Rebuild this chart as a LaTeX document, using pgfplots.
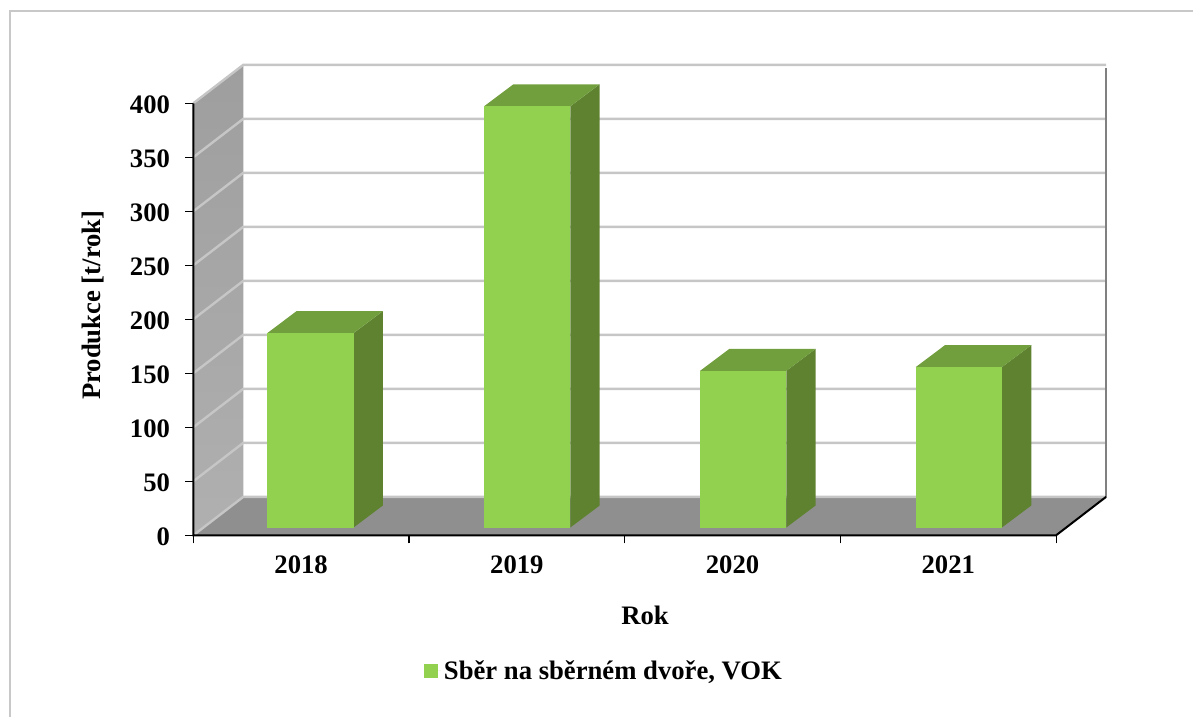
\documentclass[border=0pt]{standalone}
\usepackage{fontspec}
\setmainfont{Liberation Serif}
\usepackage{pgfplots}
\pgfplotsset{compat=1.18}

\definecolor{barfront}{HTML}{92D050}
\definecolor{bartop}{HTML}{729F3E}
\definecolor{barside}{HTML}{5F8231}
\definecolor{floorgray}{HTML}{8F8F8F}
\definecolor{gridgray}{HTML}{C6C6C6}
\definecolor{framegray}{HTML}{C8C8C8}

% depth of the box and of one bar, in axis units
\newcommand{\gridat}[1]{%
  \pgfmathsetmacro{\gy}{#1+35.6}%
  \pgfmathsetmacro{\gx}{4.2318}%
  \addplot[gridgray, line width=1.8pt] coordinates {(0,#1) (0.2318,\gy) (\gx,\gy)};
}
\newcommand{\barbox}[2]{%
  \pgfmathsetmacro{\xa}{#1}%
  \pgfmathsetmacro{\xb}{#1+0.4}%
  \pgfmathsetmacro{\xc}{#1+0.136}%
  \pgfmathsetmacro{\xd}{#1+0.4+0.136}%
  \pgfmathsetmacro{\yt}{7.2+#2}%
  \pgfmathsetmacro{\yb}{7.2+#2+20.4}%
  \addplot[fill=barside, draw=none] coordinates {(\xb,7.2) (\xd,27.6) (\xd,\yb) (\xb,\yt)};
  \addplot[fill=bartop, draw=none] coordinates {(\xa,\yt) (\xb,\yt) (\xd,\yb) (\xc,\yb)};
  \addplot[fill=barfront, draw=none] coordinates {(\xa,7.2) (\xb,7.2) (\xb,\yt) (\xa,\yt)};
}

\begin{document}
\begin{tikzpicture}
\path[use as bounding box] (0,0) rectangle (894.75pt,537.75pt);
\draw[framegray, line width=1.5pt] (7.6pt,0) -- (7.6pt,529.5pt) -- (894.75pt,529.5pt);
\begin{axis}[
  at={(144.975pt,136.275pt)},
  anchor=south west,
  scale only axis,
  width=684.6pt,
  height=352.84pt,
  xmin=0, xmax=4.2318,
  ymin=0, ymax=435.6,
  clip=false,
  axis x line*=bottom,
  axis y line*=left,
  axis line style={draw=none,-},
  tick align=outside,
  major tick length=6pt,
  tick style={black, line width=0.8pt},
  xtick={0,1,2,3,4},
  xticklabels={},
  extra x ticks={0.5,1.5,2.5,3.5},
  extra x tick labels={2018,2019,2020,2021},
  extra x tick style={major tick length=0pt, tick style={draw=none}},
  ytick={0,50,...,400},
  /pgf/number format/assume math mode=true,
  tick label style={font=\fontsize{20}{24}\selectfont\bfseries},
  xticklabel style={yshift=-12pt},
  yticklabel style={xshift=-8pt, yshift=-1pt},
  xlabel={Rok},
  ylabel={Produkce [t/rok]},
  every axis x label/.style={at={(axis cs:2.094,-73.8)}, anchor=center, font=\fontsize{20}{24}\selectfont\bfseries},
  every axis y label/.style={at={(axis cs:-0.465,213)}, anchor=center, rotate=90, font=\fontsize{20}{24}\selectfont\bfseries},
  every axis plot/.append style={forget plot},
  legend image code/.code={\fill[#1] (0pt,-5.25pt) rectangle (10.5pt,5.25pt); \path (0pt,0pt) -- (12.75pt,0pt);},
  legend style={at={(axis cs:1.0695,-125.5)}, anchor=west, draw=none, fill=none,
    font=\fontsize{20}{24}\selectfont\bfseries, inner sep=0pt, outer sep=0pt,
    nodes={inner xsep=2.2pt}},
]

% side wall and floor
\addplot[top color=black!38, bottom color=black!31, draw=none]
  coordinates {(0,0) (0.2318,35.6) (0.2318,435.6) (0,400)};
\addplot[fill=floorgray, draw=none]
  coordinates {(0,0) (4,0) (4.2318,35.6) (0.2318,35.6)};

\gridat{0}
\gridat{50}
\gridat{100}
\gridat{150}
\gridat{200}
\gridat{250}
\gridat{300}
\gridat{350}
\gridat{400}

\addplot[black!50, line width=1.5pt] coordinates {(4.2318,35.6) (4.2318,433)};

% axes
\addplot[black, line width=1.5pt] coordinates {(0,400) (0,0) (4,0) (4.2318,35.6)};

% x position of the bar, value
\barbox{0.343}{180}
\barbox{1.348}{390}
\barbox{2.349}{145}
\barbox{3.349}{148.5}

\addlegendimage{fill=barfront, draw=none}
\addlegendentry{Sběr na sběrném dvoře, VOK}

\end{axis}
\end{tikzpicture}
\end{document}
